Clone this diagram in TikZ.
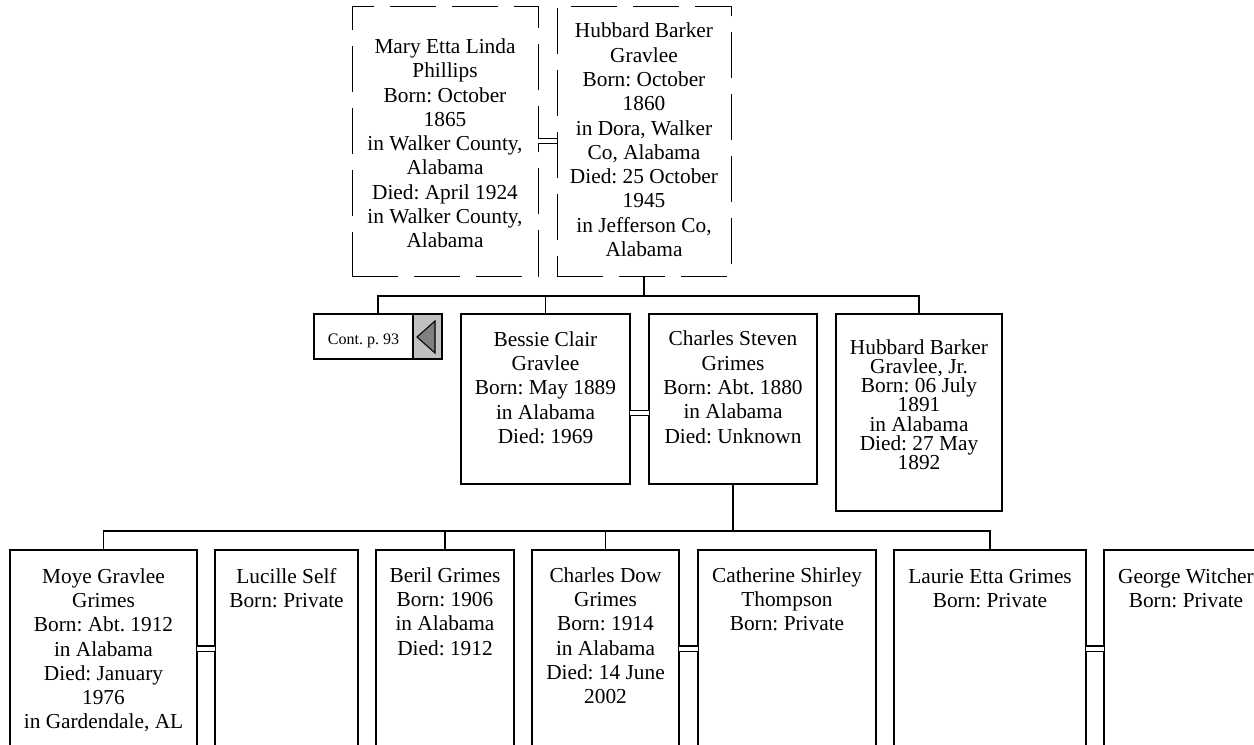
\documentclass[tikz,border=0pt]{standalone}
\usepackage{fontspec}
\setmainfont{Liberation Serif}
\definecolor{contgray}{RGB}{192,192,192}
\definecolor{arrowgray}{RGB}{128,128,128}
\newcommand\firstrule{\rule{0pt}{12.75pt}}
\tikzset{
  box/.style={draw, line width=1pt, rectangle, inner sep=0pt, outer sep=0pt},
  dbox/.style={draw, line width=0.75pt, dash pattern=on 34.5pt off 12pt, rectangle, inner sep=0pt, outer sep=0pt},
  txt/.style={align=center, inner sep=0pt, anchor=north, font={\fontsize{16pt}{18.2pt}\selectfont\frenchspacing}},
  tighttxt/.style={align=center, inner sep=0pt, anchor=north, font={\fontsize{16pt}{14.4pt}\selectfont\frenchspacing\lineskiplimit=-20pt}},
  conn/.style={line width=1pt},
  marr/.style={line width=1pt, double, double distance=3pt},
}
\begin{document}
\begin{tikzpicture}[x=0.75pt,y=-0.75pt]
\useasboundingbox (0,0) rectangle (1254,744);
\clip (0,0) rectangle (1254,744);

% top couple
\node[dbox, minimum width=139.5pt, minimum height=202.5pt] (mary) at (445,141) {};
\node[dbox, minimum width=130.5pt, minimum height=202.5pt] (hub) at (644,141) {};
\node[txt] (tmary) at (445,36.3) {\firstrule Mary Etta Linda\\Phillips\\Born: October\\1865\\in Walker County,\\Alabama\\Died: April 1924\\in Walker County,\\Alabama};
\node[txt] (thub) at (644,20.7) {\firstrule Hubbard Barker\\Gravlee\\Born: October\\1860\\in Dora, Walker\\Co, Alabama\\Died: 25 October\\1945\\in Jefferson Co,\\Alabama};
\draw[marr] (mary.east) -- (hub.west);

% second generation
\node[box, fill=white, minimum width=96pt, minimum height=33.75pt] (cont) at (378,336.5) {};
\draw[line width=1.2pt, fill=contgray] (413,314) rectangle (cont.south east);
\draw[line width=0.8pt, fill=arrowgray] (417,337) -- (435,321) -- (435,353) -- cycle;
\node[font={\fontsize{12pt}{14pt}\selectfont\frenchspacing}, anchor=base, inner sep=0pt] (contt) at (363.5,344) {Cont. p. 93};

\node[box, minimum width=126.75pt, minimum height=127.5pt] (bessie) at (545.5,399) {};
\node[box, minimum width=126pt, minimum height=127.5pt] (charles) at (733,399) {};
\node[box, minimum width=124.5pt, minimum height=147.75pt] (hubjr) at (919,412.5) {};
\node[txt] (tbessie) at (545.5,329) {\firstrule Bessie Clair\\Gravlee\\Born: May 1889\\in Alabama\\Died: 1969};
\node[txt] (tcharles) at (733,328.7) {\firstrule Charles Steven\\Grimes\\Born: Abt. 1880\\in Alabama\\Died: Unknown};
\node[tighttxt] (thubjr) at (919,337) {\firstrule Hubbard Barker\\Gravlee, Jr.\\Born: 06 July\\1891\\in Alabama\\Died: 27 May\\1892};
\draw[marr] ([yshift=-10.5pt]bessie.east) -- ([yshift=-10.5pt]charles.west);

\coordinate (bus1) at (645,296);
\draw[conn] (hub.south) -- (hub.south |- bus1);
\draw[conn] (cont.north) -- (cont.north |- bus1) -- (hubjr.north |- bus1) -- (hubjr.north);
\draw[conn] (bessie.north) -- (bessie.north |- bus1);

% third generation
\node[box, minimum width=140.25pt, minimum height=147.75pt] (moye) at (103.5,648.5) {};
\node[box, minimum width=107.25pt, minimum height=147.75pt] (lucille) at (286.5,648.5) {};
\node[box, minimum width=103.5pt, minimum height=147.75pt] (beril) at (445,648.5) {};
\node[box, minimum width=110.25pt, minimum height=147.75pt] (cdow) at (605.5,648.5) {};
\node[box, minimum width=133.5pt, minimum height=147.75pt] (cath) at (787,648.5) {};
\node[box, minimum width=144pt, minimum height=147.75pt] (laurie) at (990,648.5) {};
\node[box, minimum width=123pt, minimum height=147.75pt] (george) at (1186,648.5) {};

\node[txt] (tmoye) at (103.5,566) {\firstrule Moye Gravlee\\Grimes\\Born: Abt. 1912\\in Alabama\\Died: January\\1976\\in Gardendale, AL};
\node[txt] (tlucille) at (286.5,566) {\firstrule Lucille Self\\Born: Private};
\node[txt] (tberil) at (445,565) {\firstrule Beril Grimes\\Born: 1906\\in Alabama\\Died: 1912};
\node[txt] (tcdow) at (605.5,565) {\firstrule Charles Dow\\Grimes\\Born: 1914\\in Alabama\\Died: 14 June\\2002};
\node[txt] (tcath) at (787,565) {\firstrule Catherine Shirley\\Thompson\\Born: Private};
\node[txt] (tlaurie) at (990,566) {\firstrule Laurie Etta Grimes\\Born: Private};
\node[txt] (tgeorge) at (1186,566) {\firstrule George Witcher\\Born: Private};

\draw[marr] (moye.east) -- (lucille.west);
\draw[marr] (cdow.east) -- (cath.west);
\draw[marr] (laurie.east) -- (george.west);

\coordinate (bus2) at (733,531);
\draw[conn] (charles.south) -- (charles.south |- bus2);
\draw[conn] (moye.north) -- (moye.north |- bus2) -- (laurie.north |- bus2) -- (laurie.north);
\draw[conn] (beril.north) -- (beril.north |- bus2);
\draw[conn] (cdow.north) -- (cdow.north |- bus2);
\end{tikzpicture}
\end{document}
